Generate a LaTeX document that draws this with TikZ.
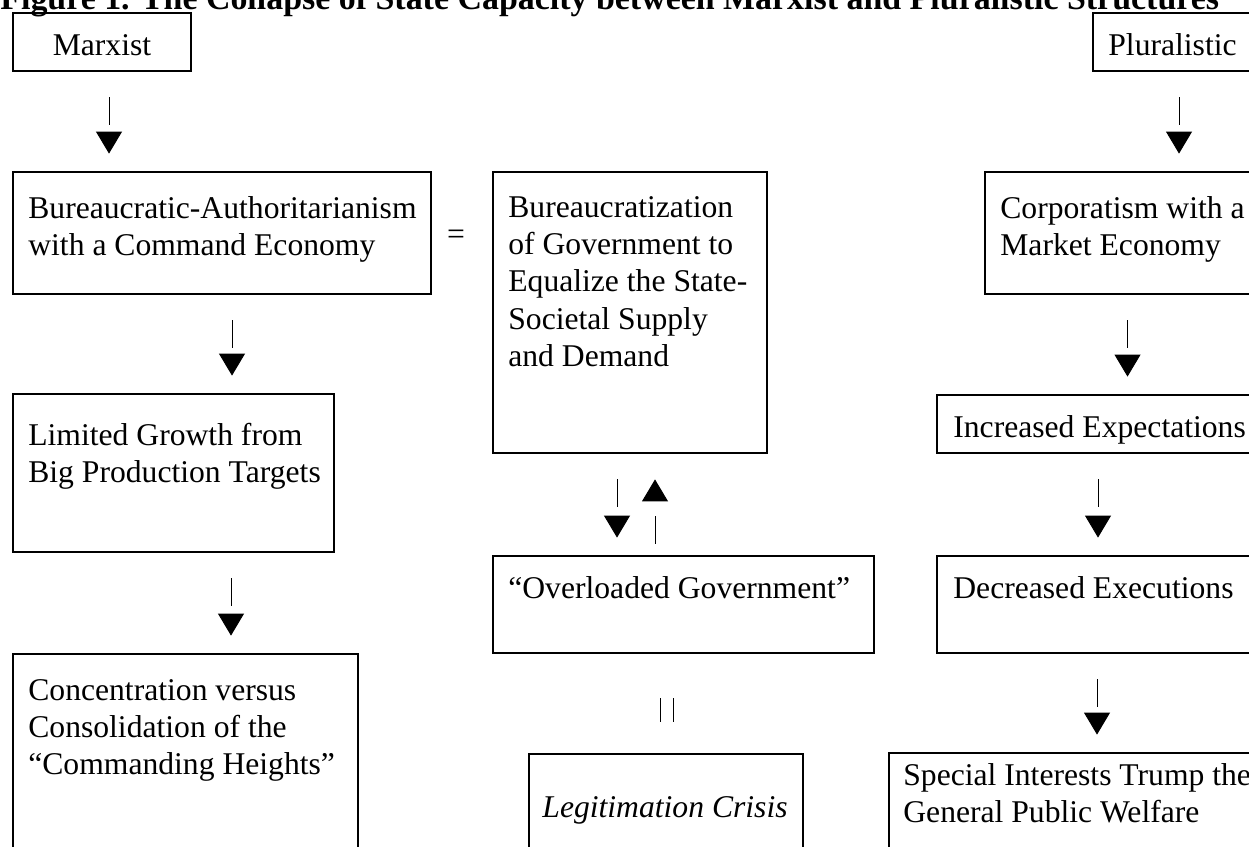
\documentclass[tikz,border=0pt]{standalone}
\usepackage{fontspec}
\setmainfont{Liberation Serif}
\usetikzlibrary{arrows.meta}

\begin{document}
\begin{tikzpicture}
    \tikzset{box/.style = {draw, line width=1.6pt, inner sep=0pt}}
    \tikzset{txt/.style = {inner sep=0pt, align=left, font=\fontsize{18pt}{21.2pt}\selectfont}}
    \tikzset{flow/.style = {line width=0.5pt, shorten <=0.5cm, shorten >=0.34cm,
        dash pattern=on 0.56cm off 3cm, -{Triangle[length=0.44cm,width=0.52cm]}}}
    \useasboundingbox (0,0) rectangle (24.98,-16.92);
    \clip (0,0) rectangle (24.98,-16.92);
    \node[txt, anchor=base west, font=\fontsize{19.3pt}{22pt}\selectfont\bfseries] (title) at (0,-0.19) {Figure 1. The Collapse of State Capacity between Marxist and Pluralistic Structures};
    % boxes
    \node[box, minimum width=3.56cm, minimum height=1.16cm] (marx) at (2.04,-0.84) {};
    \node[box, minimum width=3.54cm, minimum height=1.16cm] (plur) at (23.63,-0.84) {};
    \node[box, minimum width=8.36cm, minimum height=2.44cm] (bur) at (4.44,-4.66) {};
    \node[box, minimum width=5.48cm, minimum height=5.62cm] (mid) at (12.6,-6.25) {};
    \node[box, minimum width=5.70cm, minimum height=2.44cm] (corp) at (22.55,-4.66) {};
    \node[box, minimum width=6.42cm, minimum height=3.16cm] (lim) at (3.47,-9.46) {};
    \node[box, minimum width=6.66cm, minimum height=1.16cm] (inc) at (22.07,-8.48) {};
    \node[box, minimum width=7.62cm, minimum height=1.94cm] (ovl) at (13.67,-12.09) {};
    \node[box, minimum width=6.66cm, minimum height=1.94cm] (dec) at (22.07,-12.09) {};
    \node[box, minimum width=6.90cm, minimum height=4.92cm] (conc) at (3.71,-15.54) {};
    \node[box, minimum width=5.48cm, minimum height=2.92cm] (leg) at (13.32,-16.54) {};
    \node[box, minimum width=7.62cm, minimum height=2.94cm] (spec) at (21.59,-16.53) {};
    % texts
    \node[txt, anchor=base] (marxtxt) at (2.04,-1.12) {Marxist};
    \node[txt, anchor=base west] (plurtxt) at (22.16,-1.12) {Pluralistic};
    \node[txt, anchor=north west] (burtxt) at (0.56,-3.84) {\strut Bureaucratic-Authoritarianism\\with a Command Economy};
    \node[txt, anchor=north west] (midtxt) at (10.16,-3.82) {\strut Bureaucratization\\of Government to\\Equalize the State-\\Societal Supply\\and Demand};
    \node[txt, anchor=north west] (corptxt) at (20.0,-3.84) {\strut Corporatism with a\\Market Economy};
    \node[txt, anchor=north west] (limtxt) at (0.56,-8.38) {\strut Limited Growth from\\Big Production Targets};
    \node[txt, anchor=base west] (inctxt) at (19.06,-8.74) {Increased Expectations};
    \node[txt, anchor=base west] (ovltxt) at (10.16,-11.96) {“Overloaded Government”};
    \node[txt, anchor=base west] (dectxt) at (19.06,-11.96) {Decreased Executions};
    \node[txt, anchor=north west] (conctxt) at (0.56,-13.48) {\strut Concentration versus\\Consolidation of the\\“Commanding Heights”};
    \node[txt, anchor=base] (legtxt) at (13.3,-16.34) {\textit{Legitimation Crisis}};
    \node[txt, anchor=north west] (spectxt) at (18.06,-15.18) {\strut Special Interests Trump the\\General Public Welfare};
    \node[txt] (eq) at (9.12,-4.74) {=};
%%%%%%%%%%%%%%%%%
    \path[flow] ([xshift=0.14cm]marx.south) edge ([xshift=0.14cm]marx.south |- bur.north);
    \path[flow] ([xshift=0.2cm]bur.south) edge ([xshift=0.2cm]bur.south |- lim.north);
    \path[flow] ([xshift=1.15cm]lim.south) edge ([xshift=1.15cm]lim.south |- conc.north);
    \path[flow] ([xshift=-0.05cm]plur.south) edge ([xshift=-0.05cm]plur.south |- corp.north);
    \path[flow] (corp.south) edge (corp.south |- inc.north);
    \path[flow] ([xshift=-0.11cm]inc.south) edge ([xshift=-0.11cm]inc.south |- dec.north);
    \path[flow] ([xshift=-0.13cm]dec.south) edge ([xshift=-0.13cm]dec.south |- spec.north);
    \path[flow] ([xshift=-0.26cm]mid.south) edge ([xshift=-0.26cm]mid.south |- ovl.north);
    \path[flow, shorten <=0.22cm, shorten >=0.5cm] ([xshift=-0.57cm]ovl.north) edge ([xshift=-0.57cm]ovl.north |- mid.south);
    \path[line width=0.5pt, shorten <=0.88cm, shorten >=0.62cm] ([xshift=-0.12cm]leg.north |- ovl.south) edge ([xshift=-0.12cm]leg.north);
    \path[line width=0.5pt, shorten <=0.88cm, shorten >=0.62cm] ([xshift=0.14cm]leg.north |- ovl.south) edge ([xshift=0.14cm]leg.north);

\end{tikzpicture}
\end{document}
